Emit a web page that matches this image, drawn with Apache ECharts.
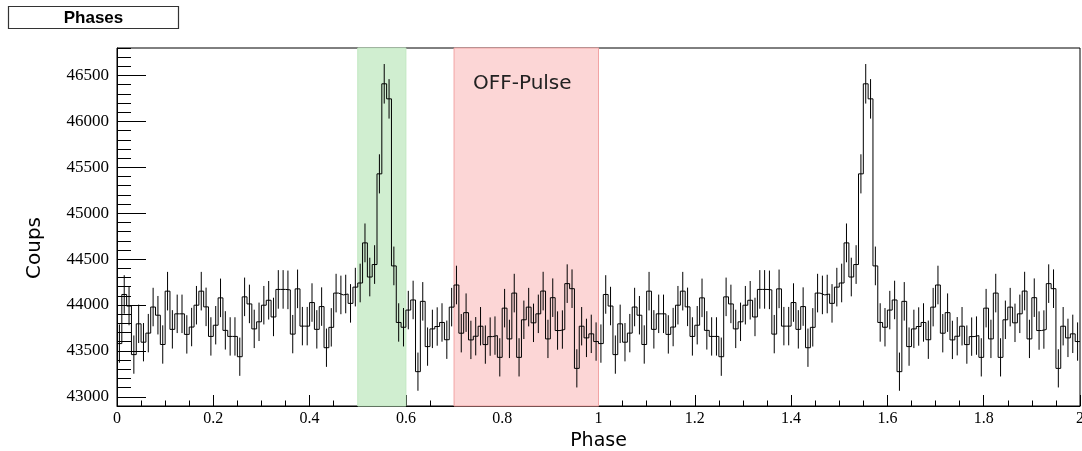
<!DOCTYPE html>
<html><head><meta charset="utf-8">
<script src="https://cdn.jsdelivr.net/npm/echarts@6/dist/echarts.min.js"></script>
<style>html,body{margin:0;padding:0;background:#fff}#c{width:1082px;height:451px}</style>
</head><body><div id="c"></div>
<script>
const chartTitle = 'Phases';
const xAxisTitle = 'Phase';
const yAxisTitle = 'Coups';
const binWidth = 0.01;
const cycleCount = 2;
// counts per phase bin (0.01 wide), one rotation; the plot shows it twice (phase 0-2)
const countsPerCycle = [
  43580, 44115, 43989, 43460, 43795, 43595, 43694, 43978, 43889, 43570,
  44151, 43735, 43904, 43904, 43680, 43760, 43998, 44151, 43980, 43658,
  43780, 44078, 43724, 43658, 43658, 43437, 44089, 44012, 43740, 43817,
  43998, 44052, 43870, 44170, 44170, 44165, 43683, 44176, 43770, 43770,
  44027, 43735, 43983, 43535, 43757, 44130, 44110, 44120, 44018, 44195,
  44240, 44677, 44305, 44441, 45429, 46410, 46246, 44426, 43810, 43758,
  43945, 44055, 43274, 44040, 43547, 43740, 43766, 43810, 43622, 43977,
  44218, 43693, 43917, 43620, 43660, 43769, 43569, 43656, 43667, 43430,
  43966, 43631, 44130, 43430, 43839, 43977, 43806, 43904, 44152, 43631,
  44080, 43722, 43733, 44233, 44178, 43310, 43769, 43642, 43686, 43602
];
const xTickLabels = [0, 0.2, 0.4, 0.6, 0.8, 1, 1.2, 1.4, 1.6, 1.8, 2];
const yTickLabels = [43000, 43500, 44000, 44500, 45000, 45500, 46000, 46500];
const bandNames = ['', 'OFF-Pulse'];
const bandStarts = [0.5, 0.7];
const bandEnds = [0.6, 1.0];
const bandColors = ['#d0eed0', '#fcd6d6'];
const bandBorders = ['#c2e8c2', '#f2a4a4'];

const nPer = countsPerCycle.length;
const steps = [];
const errBars = [];
for (let c = 0; c < cycleCount; c++) {
  countsPerCycle.forEach((v, i) => {
    const x0 = (c * nPer + i) * binWidth;
    steps.push([x0, v]);
    errBars.push([x0 + binWidth / 2, v, Math.sqrt(v)]); // Poisson errors
  });
}
steps.push([cycleCount * nPer * binWidth, countsPerCycle[nPer - 1]]);

const chart = echarts.init(document.getElementById('c'), null, {renderer: 'canvas'});
const serif = 'Liberation Serif';
const sans = 'DejaVu Sans';
chart.setOption({
  animation: false,
  backgroundColor: '#fff',
  grid: {left: 117, right: 2, top: 48, bottom: 45, show: true, borderColor: '#000', borderWidth: 1, backgroundColor: 'transparent', containLabel: false, outerBoundsMode: 'none'},
  graphic: [
    {type: 'rect', shape: {x: 8.5, y: 6.5, width: 170, height: 22}, style: {fill: '#fff', stroke: '#333', lineWidth: 1.2}, z: 10},
    {type: 'text', x: 93.5, y: 18, style: {text: chartTitle, fontFamily: 'Liberation Sans', fontWeight: 'bold', fontSize: 17, fill: '#000', align: 'center', verticalAlign: 'middle'}, z: 11}
  ],
  xAxis: {
    type: 'value', min: 0, max: 2, interval: 0.2,
    name: xAxisTitle, nameLocation: 'middle', nameGap: 24,
    nameTextStyle: {fontFamily: sans, fontSize: 19, color: '#000'},
    axisLine: {show: true, onZero: false, lineStyle: {color: '#000', width: 1}},
    axisTick: {show: true, inside: true, length: 11, lineStyle: {color: '#000'}},
    minorTick: {show: true, splitNumber: 4, length: 5.5, lineStyle: {color: '#000'}},
    axisLabel: {fontFamily: serif, fontSize: 16, color: '#000', margin: 5,
      formatter: v => String(+v.toFixed(2))},
    splitLine: {show: false}
  },
  yAxis: [{
    type: 'value', min: 42900, max: 46800, position: 'left',
    name: yAxisTitle, nameLocation: 'middle', nameGap: 72,
    nameTextStyle: {fontFamily: sans, fontSize: 20, color: '#000', padding: [0, 42, 0, 0]},
    axisLine: {show: true, onZero: false, lineStyle: {color: '#000', width: 1}},
    axisTick: {show: true, inside: true, length: 29, customValues: yTickLabels, lineStyle: {color: '#000'}},
    axisLabel: {fontFamily: serif, fontSize: 17, color: '#000', margin: 8, customValues: yTickLabels,
      formatter: v => String(v)},
    splitLine: {show: false}
  }, {
    type: 'value', min: 42900, max: 46800, interval: 100, position: 'left',
    axisLine: {show: false, onZero: false},
    axisTick: {show: true, inside: true, length: 14, lineStyle: {color: '#000'}},
    axisLabel: {show: false},
    splitLine: {show: false}
  }],
  series: [{
    type: 'line', step: 'end', data: steps, symbol: 'none', yAxisIndex: 0,
    lineStyle: {color: '#000', width: 1}, z: 3, silent: true,
    markArea: {
      silent: true,
      label: {show: true, position: 'insideTop', offset: [-4, 21], fontFamily: sans, fontSize: 20, color: '#222'},
      data: bandNames.map((n, k) => [
        {name: n, xAxis: bandStarts[k], itemStyle: {color: bandColors[k], borderColor: bandBorders[k], borderWidth: 1}},
        {xAxis: bandEnds[k]}
      ])
    }
  }, {
    type: 'custom', data: errBars, yAxisIndex: 0, z: 3, silent: true, clip: true,
    encode: {x: 0, y: 1},
    renderItem: (params, api) => {
      const x = api.value(0), v = api.value(1), e = api.value(2);
      const p1 = api.coord([x, v + e]);
      const p2 = api.coord([x, v - e]);
      return {type: 'line', shape: {x1: p1[0], y1: p1[1], x2: p2[0], y2: p2[1]}, style: {stroke: '#000', lineWidth: 1}};
    }
  }]
});
</script>
</body></html>
